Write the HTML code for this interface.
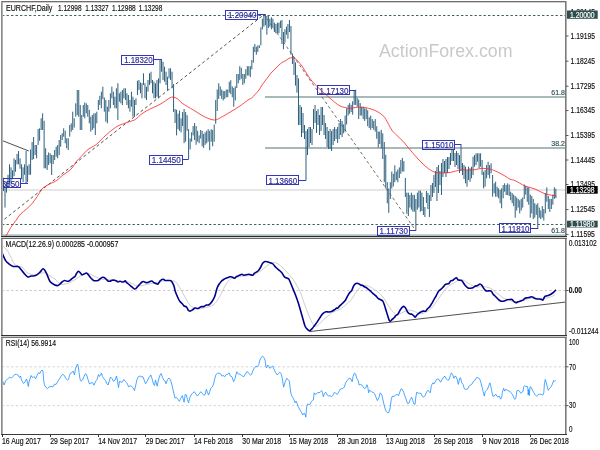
<!DOCTYPE html>
<html><head><meta charset="utf-8"><style>
html,body{margin:0;padding:0;background:#fff;}
svg{display:block;font-family:"Liberation Sans", Arial, sans-serif;}
</style></head><body>
<svg width="600" height="450" viewBox="0 0 600 450">
<rect x="0" y="0" width="600" height="450" fill="#fff"/>
<clipPath id="cm"><rect x="2" y="2" width="563" height="234"/></clipPath>
<clipPath id="cd"><rect x="2" y="239" width="563" height="96"/></clipPath>
<clipPath id="cr"><rect x="2" y="338" width="563" height="96"/></clipPath>
<rect x="1" y="234" width="565" height="1" fill="#c4d4d4" shape-rendering="crispEdges"/>
<rect x="1" y="235" width="565" height="1" fill="#a9c0c0" shape-rendering="crispEdges"/>
<g clip-path="url(#cm)">
<text x="379" y="57.3" font-size="18.3" fill="#c9c9c9" textLength="133.5" lengthAdjust="spacingAndGlyphs">ActionForex.com</text>
<line x1="2" y1="190" x2="566" y2="190" stroke="#cdcdcd" stroke-width="1.2"/>
<line x1="265" y1="97.1" x2="566" y2="97.1" stroke="#8aa2a2" stroke-width="1.5"/>
<line x1="265" y1="148" x2="566" y2="148" stroke="#8aa2a2" stroke-width="1.5"/>
<line x1="2" y1="15.5" x2="566" y2="15.5" stroke="#2f4f4f" stroke-width="0.9" stroke-dasharray="2.4,2.1"/>
<line x1="2" y1="224.5" x2="566" y2="224.5" stroke="#2f4f4f" stroke-width="0.9" stroke-dasharray="2.4,2.1"/>
<line x1="0" y1="222.7" x2="264" y2="14.5" stroke="#333" stroke-width="0.85" stroke-dasharray="3,2.6"/>
<line x1="264" y1="14.5" x2="415" y2="229.5" stroke="#555" stroke-width="0.85" stroke-dasharray="3,2.6"/>
<path d="M2.00,159.9V180.7 M3.50,177.7V191.1 M5.01,186.7V207.5 M6.51,182.2V192.6 M8.02,174.8V188.2 M9.52,164.3V183.7 M11.03,167.3V183.7 M12.54,170.3V179.2 M14.04,158.4V176.3 M15.54,159.9V171.8 M17.05,153.9V164.3 M18.55,151.0V164.3 M20.06,158.4V168.8 M21.56,164.3V179.2 M23.07,167.3V182.2 M24.57,164.3V174.8 M26.08,151.0V183.3 M27.58,165.8V182.2 M29.09,164.3V174.8 M30.59,149.5V174.8 M32.10,142.0V160.0 M33.60,137.0V159.0 M35.11,145.0V155.0 M36.61,145.0V158.3 M38.12,129.0V145.0 M39.62,128.3V140.8 M41.13,118.3V130.0 M42.63,113.3V130.0 M44.14,120.8V168.3 M45.64,148.3V168.3 M47.15,155.0V170.0 M48.65,152.5V165.0 M50.16,153.3V163.3 M51.66,155.0V175.0 M53.17,155.0V164.0 M54.67,150.0V160.0 M56.18,146.7V156.7 M57.68,145.0V158.3 M59.19,140.0V155.0 M60.69,135.0V146.7 M62.20,133.3V140.0 M63.70,128.3V136.7 M65.21,130.8V143.3 M66.71,138.3V148.3 M68.22,138.3V150.0 M69.72,125.0V136.7 M71.23,123.3V131.7 M72.73,111.7V130.0 M74.24,118.3V127.5 M75.74,103.3V116.7 M77.25,90.0V115.0 M78.75,90.0V116.7 M80.26,105.0V130.0 M81.77,115.0V130.0 M83.27,105.0V116.7 M84.77,102.5V118.3 M86.28,103.3V113.3 M87.78,105.0V116.7 M89.29,110.0V123.3 M90.79,116.7V131.7 M92.30,115.0V130.0 M93.80,113.3V128.3 M95.31,113.3V135.0 M96.81,111.7V123.3 M98.32,100.0V110.0 M99.82,95.8V105.0 M101.33,91.7V108.3 M102.83,86.7V99.2 M104.34,97.5V111.7 M105.84,100.0V121.7 M107.35,106.7V123.3 M108.85,100.0V111.7 M110.36,93.3V108.3 M111.86,86.7V98.3 M113.37,91.7V105.0 M114.87,96.7V108.3 M116.38,88.3V108.3 M117.88,83.3V120.0 M119.39,93.3V101.7 M120.89,91.7V103.3 M122.40,90.0V105.0 M123.90,88.3V98.3 M125.41,88.3V100.0 M126.91,93.3V105.0 M128.42,95.0V108.3 M129.93,100.0V111.7 M131.43,91.7V106.7 M132.94,96.7V116.7 M134.44,100.0V116.7 M135.94,98.3V105.0 M137.45,80.8V95.0 M138.95,80.0V90.0 M140.46,82.5V93.3 M141.97,83.3V98.3 M143.47,73.3V85.0 M144.97,83.3V98.3 M146.48,86.7V100.0 M147.98,80.0V91.7 M149.49,73.3V85.0 M150.99,71.7V83.3 M152.50,80.0V93.3 M154.00,81.7V98.3 M155.51,83.3V98.3 M157.01,80.0V96.7 M158.52,78.3V98.3 M160.02,60.0V83.3 M161.53,59.0V71.7 M163.03,61.7V80.0 M164.54,66.7V81.7 M166.04,71.7V85.0 M167.55,76.7V90.0 M169.05,68.3V78.3 M170.56,68.3V80.0 M172.06,71.7V88.3 M173.57,84.0V112.0 M175.07,109.0V123.0 M176.58,109.8V135.4 M178.08,113.7V129.2 M179.59,110.6V130.8 M181.09,118.3V132.3 M182.60,112.1V126.1 M184.10,109.0V143.2 M185.61,112.1V141.7 M187.11,115.2V130.8 M188.62,129.2V159.0 M190.12,138.5V149.4 M191.63,132.3V141.7 M193.13,126.1V135.4 M194.64,123.0V140.1 M196.14,126.1V144.8 M197.65,130.8V141.7 M199.15,135.4V143.2 M200.66,130.0V138.5 M202.16,130.8V146.3 M203.67,133.9V147.9 M205.17,132.3V144.8 M206.68,130.8V143.3 M208.18,129.2V141.7 M209.69,130.8V150.2 M211.19,129.2V141.7 M212.70,130.0V146.3 M214.20,124.5V141.7 M215.71,100.0V123.8 M217.21,89.5V111.0 M218.72,83.3V98.9 M220.22,86.4V95.8 M221.73,89.5V98.9 M223.23,91.0V100.4 M224.74,91.0V98.9 M226.24,89.5V97.3 M227.75,89.5V97.3 M229.25,81.8V92.7 M230.76,80.2V94.2 M232.26,86.4V97.3 M233.77,88.0V106.7 M235.27,86.4V100.4 M236.78,74.0V88.0 M238.28,74.0V83.3 M239.79,66.2V80.2 M241.29,67.8V78.7 M242.80,74.0V84.9 M244.30,74.0V83.3 M245.81,69.3V78.7 M247.31,66.2V75.6 M248.82,66.2V75.6 M250.32,66.2V77.1 M251.83,60.0V69.3 M253.33,46.7V62.7 M254.84,44.0V52.0 M256.34,46.7V54.7 M257.85,45.3V52.0 M259.35,45.3V48.0 M260.86,27.3V45.3 M262.37,18.7V29.3 M263.87,14.7V26.7 M265.38,14.0V25.3 M266.88,16.0V34.7 M268.38,16.0V28.0 M269.89,18.7V26.7 M271.39,17.3V29.3 M272.90,18.7V28.0 M274.40,22.7V32.0 M275.91,24.0V33.3 M277.41,22.7V33.3 M278.92,22.7V33.3 M280.42,20.7V28.0 M281.93,20.0V44.0 M283.44,32.0V49.3 M284.94,29.3V42.7 M286.44,26.7V34.7 M287.95,24.0V38.7 M289.45,20.0V32.0 M290.96,26.0V54.7 M292.46,53.6V64.0 M293.97,57.0V75.0 M295.47,62.4V85.6 M296.98,75.0V92.7 M298.48,78.4V125.0 M299.99,105.0V125.0 M301.50,107.0V137.0 M303.00,113.0V133.0 M304.50,125.0V139.0 M306.01,131.0V180.5 M307.51,129.0V155.0 M309.02,127.0V147.0 M310.52,127.0V143.0 M312.03,129.0V145.0 M313.53,109.0V129.0 M315.04,105.0V123.0 M316.54,111.0V133.0 M318.05,109.0V125.0 M319.55,115.0V135.0 M321.06,107.0V131.0 M322.56,107.0V125.0 M324.07,115.0V135.0 M325.57,123.0V139.0 M327.08,127.0V147.0 M328.58,131.0V149.0 M330.09,129.0V149.0 M331.59,131.0V151.0 M333.10,129.0V145.0 M334.60,127.0V141.0 M336.11,129.0V139.0 M337.61,127.0V143.0 M339.12,123.0V139.0 M340.62,119.0V135.0 M342.13,121.0V137.0 M343.63,124.4V133.3 M345.14,115.6V131.6 M346.64,108.4V124.4 M348.15,104.9V115.6 M349.65,103.1V113.8 M351.16,104.9V112.0 M352.66,101.3V114.7 M354.17,90.7V104.9 M355.67,89.8V104.9 M357.18,97.8V106.7 M358.69,99.6V119.1 M360.19,103.1V115.6 M361.69,106.7V115.6 M363.20,106.7V119.1 M364.70,108.4V120.9 M366.21,108.4V119.1 M367.71,110.2V126.2 M369.22,117.3V128.0 M370.72,115.6V129.8 M372.23,119.1V128.0 M373.73,120.9V129.8 M375.24,119.1V131.6 M376.74,126.2V138.7 M378.25,131.6V147.6 M379.75,131.6V144.0 M381.26,129.8V148.4 M382.76,133.3V159.0 M384.27,142.0V182.2 M385.77,154.8V188.5 M387.28,182.2V203.3 M388.78,188.5V212.8 M390.29,182.2V199.0 M391.79,171.6V188.5 M393.30,173.8V186.4 M394.80,165.3V182.2 M396.31,171.6V180.1 M397.81,169.5V182.2 M399.32,167.4V178.0 M400.82,160.0V173.8 M402.33,157.9V171.6 M403.83,161.1V171.6 M405.34,178.0V197.0 M406.84,192.7V213.8 M408.35,192.7V216.0 M409.85,194.9V207.5 M411.36,192.7V209.6 M412.86,194.9V211.7 M414.37,194.9V211.7 M415.87,199.0V230.2 M417.38,192.7V209.6 M418.88,190.6V207.5 M420.39,190.6V211.7 M421.89,192.7V211.0 M423.40,197.0V215.0 M424.90,207.0V217.0 M426.41,191.0V203.0 M427.91,193.0V209.0 M429.42,195.0V217.0 M430.92,185.0V201.0 M432.43,183.0V197.0 M433.93,175.0V193.0 M435.44,171.0V187.0 M436.94,167.0V201.0 M438.45,165.0V193.0 M439.95,171.0V185.0 M441.46,163.0V195.0 M442.96,159.0V177.0 M444.47,161.0V173.0 M445.97,159.0V177.0 M447.48,157.0V173.0 M448.98,157.0V169.0 M450.49,153.0V165.0 M451.99,149.0V161.0 M453.50,149.0V161.0 M455.00,153.0V167.0 M456.51,151.0V165.0 M458.01,153.0V169.0 M459.52,155.0V173.0 M461.02,145.0V171.0 M462.53,163.0V175.0 M464.03,165.0V179.0 M465.54,166.7V183.3 M467.04,170.0V186.7 M468.55,166.7V180.0 M470.05,168.3V181.7 M471.56,166.7V178.3 M473.06,156.7V175.0 M474.57,155.0V166.7 M476.07,153.3V165.0 M477.58,153.3V161.7 M479.08,153.3V168.3 M480.59,153.3V166.7 M482.09,160.0V175.0 M483.60,171.7V188.3 M485.10,170.0V186.7 M486.61,165.0V178.3 M488.11,161.7V175.0 M489.62,165.0V178.3 M491.12,163.3V173.3 M492.63,175.0V196.7 M494.13,183.3V193.3 M495.64,181.7V196.7 M497.14,186.7V196.7 M498.65,188.3V198.3 M500.15,190.0V203.3 M501.66,188.3V208.3 M503.16,185.0V198.3 M504.67,183.3V191.7 M506.17,185.0V195.0 M507.68,183.3V195.0 M509.18,184.5V196.0 M510.69,191.7V200.3 M512.19,193.1V203.2 M513.70,194.6V206.1 M515.20,196.0V217.7 M516.71,197.5V210.5 M518.21,198.9V207.6 M519.72,200.3V213.4 M521.22,198.9V210.5 M522.73,197.5V207.6 M524.24,184.5V198.9 M525.74,185.9V194.6 M527.25,187.3V201.8 M528.75,187.3V204.7 M530.25,194.6V217.7 M531.76,196.0V213.4 M533.26,198.9V219.1 M534.77,203.2V217.7 M536.27,204.7V214.8 M537.78,203.2V228.0 M539.28,207.6V217.7 M540.79,210.5V219.1 M542.29,206.1V217.7 M543.80,209.0V220.6 M545.30,193.1V213.4 M546.81,187.3V201.8 M548.31,196.0V209.0 M549.82,198.9V211.9 M551.32,198.9V209.0 M552.83,194.6V204.7 M554.33,187.3V198.9 M555.84,188.8V198.2" stroke="#2d607e" stroke-width="1.0" fill="none"/>
<path d="M2.00,240.00 C2.70,239.27 4.75,237.67 6.20,235.60 C7.65,233.53 9.07,230.13 10.70,227.60 C12.33,225.07 14.38,222.63 16.00,220.40 C17.62,218.17 18.62,216.12 20.40,214.20 C22.18,212.28 24.77,210.67 26.70,208.90 C28.63,207.13 30.23,205.68 32.00,203.60 C33.77,201.52 35.67,198.78 37.30,196.40 C38.93,194.02 40.32,191.07 41.80,189.30 C43.28,187.53 44.57,186.83 46.20,185.80 C47.83,184.77 49.82,184.00 51.60,183.10 C53.38,182.20 55.13,181.65 56.90,180.40 C58.67,179.15 60.38,177.05 62.20,175.60 C64.02,174.15 66.13,173.00 67.80,171.70 C69.47,170.40 70.72,169.57 72.20,167.80 C73.68,166.03 75.22,162.95 76.70,161.10 C78.18,159.25 79.43,158.45 81.10,156.70 C82.77,154.95 85.03,152.12 86.70,150.60 C88.37,149.08 89.62,148.53 91.10,147.60 C92.58,146.67 94.12,146.08 95.60,145.00 C97.08,143.92 98.43,142.60 100.00,141.10 C101.57,139.60 102.67,138.10 105.00,136.00 C107.33,133.90 111.50,130.33 114.00,128.50 C116.50,126.67 117.33,126.17 120.00,125.00 C122.67,123.83 127.40,122.43 130.00,121.50 C132.60,120.57 133.75,120.58 135.60,119.40 C137.45,118.22 139.25,115.83 141.10,114.40 C142.95,112.97 144.85,111.87 146.70,110.80 C148.55,109.73 149.98,109.07 152.20,108.00 C154.42,106.93 157.70,105.65 160.00,104.40 C162.30,103.15 164.33,101.60 166.00,100.50 C167.67,99.40 168.83,98.38 170.00,97.80 C171.17,97.22 171.83,96.88 173.00,97.00 C174.17,97.12 175.83,97.83 177.00,98.50 C178.17,99.17 179.13,100.20 180.00,101.00 C180.87,101.80 179.98,101.80 182.20,103.30 C184.42,104.80 189.60,107.77 193.30,110.00 C197.00,112.23 200.88,115.03 204.40,116.70 C207.92,118.37 211.43,120.00 214.40,120.00 C217.37,120.00 219.60,118.00 222.20,116.70 C224.80,115.40 227.03,113.98 230.00,112.20 C232.97,110.42 237.00,108.03 240.00,106.00 C243.00,103.97 246.05,101.33 248.00,100.00 C249.95,98.67 250.53,98.92 251.70,98.00 C252.87,97.08 253.78,95.83 255.00,94.50 C256.22,93.17 257.83,91.58 259.00,90.00 C260.17,88.42 261.00,86.50 262.00,85.00 C263.00,83.50 264.00,82.33 265.00,81.00 C266.00,79.67 267.00,78.33 268.00,77.00 C269.00,75.67 269.83,74.33 271.00,73.00 C272.17,71.67 273.67,70.33 275.00,69.00 C276.33,67.67 277.83,66.08 279.00,65.00 C280.17,63.92 281.00,63.17 282.00,62.50 C283.00,61.83 284.00,61.58 285.00,61.00 C286.00,60.42 287.17,59.50 288.00,59.00 C288.83,58.50 289.17,58.20 290.00,58.00 C290.83,57.80 292.00,57.60 293.00,57.80 C294.00,58.00 295.17,58.62 296.00,59.20 C296.83,59.78 297.00,60.17 298.00,61.30 C299.00,62.43 300.78,64.33 302.00,66.00 C303.22,67.67 304.18,69.52 305.30,71.30 C306.42,73.08 307.47,74.92 308.70,76.70 C309.93,78.48 311.37,80.45 312.70,82.00 C314.03,83.55 315.27,84.55 316.70,86.00 C318.13,87.45 319.75,89.25 321.30,90.70 C322.85,92.15 324.33,93.27 326.00,94.70 C327.67,96.13 329.75,97.97 331.30,99.30 C332.85,100.63 333.85,101.58 335.30,102.70 C336.75,103.82 338.38,105.20 340.00,106.00 C341.62,106.80 343.33,107.10 345.00,107.50 C346.67,107.90 348.00,108.45 350.00,108.40 C352.00,108.35 354.50,107.33 357.00,107.20 C359.50,107.07 362.50,107.25 365.00,107.60 C367.50,107.95 369.83,108.57 372.00,109.30 C374.17,110.03 376.17,110.95 378.00,112.00 C379.83,113.05 381.67,114.35 383.00,115.60 C384.33,116.85 384.53,117.10 386.00,119.50 C387.47,121.90 389.97,127.33 391.80,130.00 C393.63,132.67 395.05,133.53 397.00,135.50 C398.95,137.47 401.50,139.63 403.50,141.80 C405.50,143.97 407.03,146.15 409.00,148.50 C410.97,150.85 413.30,153.65 415.30,155.90 C417.30,158.15 419.05,160.05 421.00,162.00 C422.95,163.95 424.83,165.95 427.00,167.60 C429.17,169.25 431.67,171.00 434.00,171.90 C436.33,172.80 438.23,172.92 441.00,173.00 C443.77,173.08 447.43,172.90 450.60,172.40 C453.77,171.90 456.87,170.40 460.00,170.00 C463.13,169.60 466.90,170.05 469.40,170.00 C471.90,169.95 472.90,169.98 475.00,169.70 C477.10,169.42 479.50,168.38 482.00,168.30 C484.50,168.22 487.83,168.78 490.00,169.20 C492.17,169.62 493.33,170.12 495.00,170.80 C496.67,171.48 498.33,172.43 500.00,173.30 C501.67,174.17 503.33,175.02 505.00,176.00 C506.67,176.98 508.33,178.43 510.00,179.20 C511.67,179.97 512.50,179.47 515.00,180.60 C517.50,181.73 521.67,184.60 525.00,186.00 C528.33,187.40 531.67,187.70 535.00,189.00 C538.33,190.30 541.42,192.63 545.00,193.80 C548.58,194.97 554.58,195.63 556.50,196.00" stroke="#ff2020" stroke-width="0.8" fill="none"/>
<line x1="0" y1="139.7" x2="28.8" y2="151" stroke="#222" stroke-width="0.8"/>
<rect x="225.5" y="10.5" width="32.0" height="9.0" fill="none" stroke="#3636b8" stroke-width="1"/><line x1="257.5" y1="14.5" x2="265" y2="14.5" stroke="#3636b8" stroke-width="1"/><text x="228.10000000000002" y="18.099999999999998" font-size="8.7" fill="#2a2a9a" text-anchor="start" textLength="28.4" lengthAdjust="spacingAndGlyphs" stroke="#2a2a9a" stroke-width="0.16" >1.20040</text>
<rect x="121.5" y="55.5" width="32.0" height="9.0" fill="none" stroke="#3636b8" stroke-width="1"/><line x1="153.5" y1="59.5" x2="162" y2="59.5" stroke="#3636b8" stroke-width="1"/><text x="124.2" y="62.9" font-size="8.7" fill="#2a2a9a" text-anchor="start" textLength="28.4" lengthAdjust="spacingAndGlyphs" stroke="#2a2a9a" stroke-width="0.16" >1.18320</text>
<rect x="149.5" y="155.5" width="33.0" height="9.0" fill="none" stroke="#3636b8" stroke-width="1"/><line x1="182.5" y1="159.5" x2="188.7" y2="159.5" stroke="#3636b8" stroke-width="1"/><text x="151.8" y="163.20000000000002" font-size="8.7" fill="#2a2a9a" text-anchor="start" textLength="28.9" lengthAdjust="spacingAndGlyphs" stroke="#2a2a9a" stroke-width="0.16" >1.14450</text>
<rect x="266.5" y="175.5" width="32.0" height="9.0" fill="none" stroke="#3636b8" stroke-width="1"/><line x1="298.5" y1="180.5" x2="306" y2="180.5" stroke="#3636b8" stroke-width="1"/><text x="268.5" y="183.8" font-size="8.7" fill="#2a2a9a" text-anchor="start" textLength="28.7" lengthAdjust="spacingAndGlyphs" stroke="#2a2a9a" stroke-width="0.16" >1.13660</text>
<rect x="317.5" y="85.5" width="32.0" height="9.0" fill="none" stroke="#3636b8" stroke-width="1"/><line x1="349.5" y1="90.5" x2="356" y2="90.5" stroke="#3636b8" stroke-width="1"/><text x="319.6" y="93.60000000000001" font-size="8.7" fill="#2a2a9a" text-anchor="start" textLength="28.9" lengthAdjust="spacingAndGlyphs" stroke="#2a2a9a" stroke-width="0.16" >1.17130</text>
<rect x="422.5" y="140.5" width="32.0" height="9.0" fill="none" stroke="#3636b8" stroke-width="1"/><line x1="454.5" y1="144.5" x2="461.5" y2="144.5" stroke="#3636b8" stroke-width="1"/><text x="424.6" y="148.4" font-size="8.7" fill="#2a2a9a" text-anchor="start" textLength="28.9" lengthAdjust="spacingAndGlyphs" stroke="#2a2a9a" stroke-width="0.16" >1.15010</text>
<rect x="377.5" y="226.5" width="32.0" height="9.0" fill="none" stroke="#3636b8" stroke-width="1"/><line x1="409.5" y1="230.5" x2="416.2" y2="230.5" stroke="#3636b8" stroke-width="1"/><text x="379.6" y="233.9" font-size="8.7" fill="#2a2a9a" text-anchor="start" textLength="28.4" lengthAdjust="spacingAndGlyphs" stroke="#2a2a9a" stroke-width="0.16" >1.11730</text>
<rect x="499.5" y="223.5" width="31.0" height="9.0" fill="none" stroke="#3636b8" stroke-width="1"/><line x1="530.5" y1="228.5" x2="538.3" y2="228.5" stroke="#3636b8" stroke-width="1"/><text x="501.40000000000003" y="231.6" font-size="8.7" fill="#2a2a9a" text-anchor="start" textLength="28.1" lengthAdjust="spacingAndGlyphs" stroke="#2a2a9a" stroke-width="0.16" >1.11810</text>
<rect x="-10.5" y="178.5" width="31.0" height="9.0" fill="none" stroke="#3636b8" stroke-width="1"/><line x1="20.5" y1="183.5" x2="28" y2="183.5" stroke="#3636b8" stroke-width="1"/><text x="-9.2" y="186.70000000000002" font-size="8.7" fill="#2a2a9a" text-anchor="start" textLength="28.7" lengthAdjust="spacingAndGlyphs" stroke="#2a2a9a" stroke-width="0.16" >1.13550</text>
<text x="551.3" y="95" font-size="7.6" fill="#2e4e58" text-anchor="start" textLength="13.6" lengthAdjust="spacingAndGlyphs" stroke="#2e4e58" stroke-width="0.16" >61.8</text>
<text x="551.3" y="146" font-size="7.6" fill="#2e4e58" text-anchor="start" textLength="13.6" lengthAdjust="spacingAndGlyphs" stroke="#2e4e58" stroke-width="0.16" >38.2</text>
<text x="551.3" y="232.6" font-size="7.6" fill="#2e4e58" text-anchor="start" textLength="13.6" lengthAdjust="spacingAndGlyphs" stroke="#2e4e58" stroke-width="0.16" >61.8</text>
</g>
<text x="6" y="10.7" font-size="8.2" fill="#111" text-anchor="start" textLength="46.4" lengthAdjust="spacingAndGlyphs" stroke="#111" stroke-width="0.16" >EURCHF,Daily</text>
<text x="58" y="10.7" font-size="8.2" fill="#111" text-anchor="start" textLength="23.6" lengthAdjust="spacingAndGlyphs" stroke="#111" stroke-width="0.16" >1.12998</text>
<text x="85.3" y="10.7" font-size="8.2" fill="#111" text-anchor="start" textLength="23.4" lengthAdjust="spacingAndGlyphs" stroke="#111" stroke-width="0.16" >1.13327</text>
<text x="112" y="10.7" font-size="8.2" fill="#111" text-anchor="start" textLength="23.7" lengthAdjust="spacingAndGlyphs" stroke="#111" stroke-width="0.16" >1.12988</text>
<text x="138.7" y="10.7" font-size="8.2" fill="#111" text-anchor="start" textLength="23.6" lengthAdjust="spacingAndGlyphs" stroke="#111" stroke-width="0.16" >1.13298</text>
<g clip-path="url(#cd)">
<line x1="2" y1="290.5" x2="566" y2="290.5" stroke="#bbb" stroke-width="0.8" stroke-dasharray="2.3,2.3"/>
<path d="M2.00,244.90 C3.00,246.02 5.83,248.27 8.00,251.60 C10.17,254.93 12.67,262.33 15.00,264.90 C17.33,267.47 20.00,265.70 22.00,267.00 C24.00,268.30 24.83,271.38 27.00,272.70 C29.17,274.02 32.17,274.90 35.00,274.90 C37.83,274.90 41.50,272.52 44.00,272.70 C46.50,272.88 48.17,274.95 50.00,276.00 C51.83,277.05 53.67,277.92 55.00,279.00 C56.33,280.08 57.00,281.58 58.00,282.50 C59.00,283.42 59.83,284.25 61.00,284.50 C62.17,284.75 63.67,284.25 65.00,284.00 C66.33,283.75 67.67,283.53 69.00,283.00 C70.33,282.47 71.67,281.55 73.00,280.80 C74.33,280.05 75.67,279.38 77.00,278.50 C78.33,277.62 79.67,276.25 81.00,275.50 C82.33,274.75 83.67,274.33 85.00,274.00 C86.33,273.67 87.67,273.25 89.00,273.50 C90.33,273.75 91.67,274.83 93.00,275.50 C94.33,276.17 95.67,276.92 97.00,277.50 C98.33,278.08 99.67,278.67 101.00,279.00 C102.33,279.33 103.67,279.37 105.00,279.50 C106.33,279.63 107.67,279.72 109.00,279.80 C110.33,279.88 111.17,279.80 113.00,280.00 C114.83,280.20 117.67,280.75 120.00,281.00 C122.33,281.25 125.00,281.08 127.00,281.50 C129.00,281.92 130.33,282.75 132.00,283.50 C133.67,284.25 135.33,285.67 137.00,286.00 C138.67,286.33 140.33,285.75 142.00,285.50 C143.67,285.25 145.33,284.88 147.00,284.50 C148.67,284.12 150.33,283.53 152.00,283.20 C153.67,282.87 155.33,282.78 157.00,282.50 C158.67,282.22 160.67,281.83 162.00,281.50 C163.33,281.17 163.00,280.58 165.00,280.50 C167.00,280.42 171.83,280.25 174.00,281.00 C176.17,281.75 176.83,283.50 178.00,285.00 C179.17,286.50 179.83,288.00 181.00,290.00 C182.17,292.00 183.67,294.67 185.00,297.00 C186.33,299.33 187.67,302.25 189.00,304.00 C190.33,305.75 191.50,306.67 193.00,307.50 C194.50,308.33 196.33,308.92 198.00,309.00 C199.67,309.08 201.33,308.33 203.00,308.00 C204.67,307.67 206.33,307.50 208.00,307.00 C209.67,306.50 211.50,306.00 213.00,305.00 C214.50,304.00 215.67,302.83 217.00,301.00 C218.33,299.17 219.83,296.17 221.00,294.00 C222.17,291.83 223.05,289.83 224.00,288.00 C224.95,286.17 225.82,284.33 226.70,283.00 C227.58,281.67 228.42,280.78 229.30,280.00 C230.18,279.22 230.88,278.75 232.00,278.30 C233.12,277.85 234.67,277.60 236.00,277.30 C237.33,277.00 238.67,276.72 240.00,276.50 C241.33,276.28 242.33,276.17 244.00,276.00 C245.67,275.83 248.17,275.75 250.00,275.50 C251.83,275.25 253.00,275.42 255.00,274.50 C257.00,273.58 259.83,271.58 262.00,270.00 C264.17,268.42 266.17,266.25 268.00,265.00 C269.83,263.75 271.33,262.67 273.00,262.50 C274.67,262.33 276.33,263.08 278.00,264.00 C279.67,264.92 281.17,266.25 283.00,268.00 C284.83,269.75 287.23,272.50 289.00,274.50 C290.77,276.50 292.23,278.07 293.60,280.00 C294.97,281.93 296.08,284.07 297.20,286.10 C298.32,288.13 299.28,289.75 300.30,292.20 C301.32,294.65 302.28,297.95 303.30,300.80 C304.32,303.65 305.38,306.65 306.40,309.30 C307.42,311.95 308.38,314.35 309.40,316.70 C310.42,319.05 311.57,321.77 312.50,323.40 C313.43,325.03 314.18,326.10 315.00,326.50 C315.82,326.90 316.48,326.42 317.40,325.80 C318.32,325.18 319.38,323.92 320.50,322.80 C321.62,321.68 322.88,320.22 324.10,319.10 C325.32,317.98 326.57,317.12 327.80,316.10 C329.03,315.08 330.30,313.82 331.50,313.00 C332.70,312.18 333.48,311.88 335.00,311.20 C336.52,310.52 338.75,310.03 340.60,308.90 C342.45,307.77 344.25,306.07 346.10,304.40 C347.95,302.73 349.85,301.20 351.70,298.90 C353.55,296.60 355.53,292.73 357.20,290.60 C358.87,288.47 360.22,286.93 361.70,286.10 C363.18,285.27 364.62,285.42 366.10,285.60 C367.58,285.78 369.12,286.47 370.60,287.20 C372.08,287.93 373.53,288.98 375.00,290.00 C376.47,291.02 377.92,291.92 379.40,293.30 C380.88,294.68 382.42,296.25 383.90,298.30 C385.38,300.35 386.82,303.37 388.30,305.60 C389.78,307.83 391.68,310.42 392.80,311.70 C393.92,312.98 394.23,312.75 395.00,313.30 C395.77,313.85 396.07,315.18 397.40,315.00 C398.73,314.82 401.13,313.00 403.00,312.20 C404.87,311.40 406.93,310.42 408.60,310.20 C410.27,309.98 411.53,310.47 413.00,310.90 C414.47,311.33 415.92,312.35 417.40,312.80 C418.88,313.25 420.42,313.73 421.90,313.60 C423.38,313.47 424.82,312.78 426.30,312.00 C427.78,311.22 429.32,310.35 430.80,308.90 C432.28,307.45 433.72,305.25 435.20,303.30 C436.68,301.35 438.22,299.32 439.70,297.20 C441.18,295.08 442.62,292.45 444.10,290.60 C445.58,288.75 447.12,287.32 448.60,286.10 C450.08,284.88 452.10,283.82 453.00,283.30 C453.90,282.78 453.17,283.47 454.00,283.00 C454.83,282.53 456.50,281.00 458.00,280.50 C459.50,280.00 461.33,279.58 463.00,280.00 C464.67,280.42 466.33,282.00 468.00,283.00 C469.67,284.00 471.33,285.33 473.00,286.00 C474.67,286.67 476.33,286.92 478.00,287.00 C479.67,287.08 481.33,286.42 483.00,286.50 C484.67,286.58 486.50,287.08 488.00,287.50 C489.50,287.92 490.67,288.17 492.00,289.00 C493.33,289.83 494.67,291.42 496.00,292.50 C497.33,293.58 498.67,294.50 500.00,295.50 C501.33,296.50 502.67,297.83 504.00,298.50 C505.33,299.17 507.00,299.17 508.00,299.50 C509.00,299.83 508.83,300.12 510.00,300.50 C511.17,300.88 513.33,301.68 515.00,301.80 C516.67,301.92 518.33,301.53 520.00,301.20 C521.67,300.87 523.33,300.25 525.00,299.80 C526.67,299.35 528.33,298.77 530.00,298.50 C531.67,298.23 533.33,298.20 535.00,298.20 C536.67,298.20 538.33,298.50 540.00,298.50 C541.67,298.50 543.33,298.42 545.00,298.20 C546.67,297.98 548.33,297.73 550.00,297.20 C551.67,296.67 554.17,295.37 555.00,295.00" stroke="#c0c0c0" stroke-width="0.8" fill="none"/>
<path d="M2.00,252.70 C2.58,253.98 4.35,258.55 5.50,260.40 C6.65,262.25 7.60,262.80 8.90,263.80 C10.20,264.80 11.82,265.97 13.30,266.40 C14.78,266.83 16.68,266.10 17.80,266.40 C18.92,266.70 18.90,266.97 20.00,268.20 C21.10,269.43 23.10,272.33 24.40,273.80 C25.70,275.27 26.70,276.63 27.80,277.00 C28.90,277.37 29.70,276.23 31.00,276.00 C32.30,275.77 34.10,276.23 35.60,275.60 C37.10,274.97 38.72,273.35 40.00,272.20 C41.28,271.05 42.18,268.43 43.30,268.70 C44.42,268.97 45.58,271.65 46.70,273.80 C47.82,275.95 48.62,279.73 50.00,281.60 C51.38,283.47 53.67,284.35 55.00,285.00 C56.33,285.65 57.17,285.67 58.00,285.50 C58.83,285.33 59.33,284.58 60.00,284.00 C60.67,283.42 61.25,282.58 62.00,282.00 C62.75,281.42 63.67,280.63 64.50,280.50 C65.33,280.37 66.25,281.12 67.00,281.20 C67.75,281.28 68.33,281.28 69.00,281.00 C69.67,280.72 70.33,280.03 71.00,279.50 C71.67,278.97 72.33,278.30 73.00,277.80 C73.67,277.30 74.42,277.22 75.00,276.50 C75.58,275.78 75.92,274.38 76.50,273.50 C77.08,272.62 77.83,271.28 78.50,271.20 C79.17,271.12 79.92,272.40 80.50,273.00 C81.08,273.60 81.42,274.63 82.00,274.80 C82.58,274.97 83.25,274.30 84.00,274.00 C84.75,273.70 85.75,272.83 86.50,273.00 C87.25,273.17 87.75,274.13 88.50,275.00 C89.25,275.87 90.17,277.28 91.00,278.20 C91.83,279.12 92.67,280.07 93.50,280.50 C94.33,280.93 95.25,280.80 96.00,280.80 C96.75,280.80 97.33,280.80 98.00,280.50 C98.67,280.20 99.33,279.50 100.00,279.00 C100.67,278.50 101.33,277.75 102.00,277.50 C102.67,277.25 103.33,277.25 104.00,277.50 C104.67,277.75 105.33,278.42 106.00,279.00 C106.67,279.58 107.33,280.63 108.00,281.00 C108.67,281.37 109.33,281.33 110.00,281.20 C110.67,281.07 111.25,280.37 112.00,280.20 C112.75,280.03 113.75,280.07 114.50,280.20 C115.25,280.33 115.92,280.70 116.50,281.00 C117.08,281.30 117.42,281.97 118.00,282.00 C118.58,282.03 119.33,281.20 120.00,281.20 C120.67,281.20 121.33,281.90 122.00,282.00 C122.67,282.10 123.47,282.00 124.00,281.80 C124.53,281.60 124.78,280.68 125.20,280.80 C125.62,280.92 125.95,281.97 126.50,282.50 C127.05,283.03 127.83,283.45 128.50,284.00 C129.17,284.55 129.83,285.22 130.50,285.80 C131.17,286.38 131.83,286.97 132.50,287.50 C133.17,288.03 133.92,288.83 134.50,289.00 C135.08,289.17 135.42,288.97 136.00,288.50 C136.58,288.03 137.33,286.95 138.00,286.20 C138.67,285.45 139.33,284.70 140.00,284.00 C140.67,283.30 141.42,282.42 142.00,282.00 C142.58,281.58 142.92,281.42 143.50,281.50 C144.08,281.58 144.75,282.33 145.50,282.50 C146.25,282.67 147.25,282.67 148.00,282.50 C148.75,282.33 149.33,281.75 150.00,281.50 C150.67,281.25 151.33,280.78 152.00,281.00 C152.67,281.22 153.33,282.38 154.00,282.80 C154.67,283.22 155.33,283.30 156.00,283.50 C156.67,283.70 157.33,284.42 158.00,284.00 C158.67,283.58 159.33,281.75 160.00,281.00 C160.67,280.25 161.33,279.75 162.00,279.50 C162.67,279.25 163.50,279.33 164.00,279.50 C164.50,279.67 164.00,280.33 165.00,280.50 C166.00,280.67 168.83,280.25 170.00,280.50 C171.17,280.75 171.33,281.08 172.00,282.00 C172.67,282.92 173.50,284.58 174.00,286.00 C174.50,287.42 174.58,289.08 175.00,290.50 C175.42,291.92 175.92,293.08 176.50,294.50 C177.08,295.92 177.92,297.83 178.50,299.00 C179.08,300.17 179.33,300.67 180.00,301.50 C180.67,302.33 181.83,303.25 182.50,304.00 C183.17,304.75 183.33,305.50 184.00,306.00 C184.67,306.50 185.75,306.25 186.50,307.00 C187.25,307.75 187.83,309.83 188.50,310.50 C189.17,311.17 189.75,311.17 190.50,311.00 C191.25,310.83 192.25,310.00 193.00,309.50 C193.75,309.00 194.17,308.17 195.00,308.00 C195.83,307.83 197.00,308.70 198.00,308.50 C199.00,308.30 200.00,307.13 201.00,306.80 C202.00,306.47 203.08,306.80 204.00,306.50 C204.92,306.20 205.67,305.28 206.50,305.00 C207.33,304.72 208.08,305.38 209.00,304.80 C209.92,304.22 211.08,302.80 212.00,301.50 C212.92,300.20 213.83,298.58 214.50,297.00 C215.17,295.42 215.50,293.67 216.00,292.00 C216.50,290.33 216.92,288.42 217.50,287.00 C218.08,285.58 219.08,284.17 219.50,283.50 C219.92,282.83 219.58,283.47 220.00,283.00 C220.42,282.53 221.33,281.33 222.00,280.70 C222.67,280.07 223.33,279.60 224.00,279.20 C224.67,278.80 225.33,278.58 226.00,278.30 C226.67,278.02 227.33,277.77 228.00,277.50 C228.67,277.23 229.33,276.78 230.00,276.70 C230.67,276.62 231.38,276.80 232.00,277.00 C232.62,277.20 233.20,277.72 233.70,277.90 C234.20,278.08 234.57,278.30 235.00,278.10 C235.43,277.90 235.80,277.07 236.30,276.70 C236.80,276.33 237.38,276.18 238.00,275.90 C238.62,275.62 239.33,275.27 240.00,275.00 C240.67,274.73 241.38,274.27 242.00,274.30 C242.62,274.33 243.20,275.08 243.70,275.20 C244.20,275.32 244.12,275.17 245.00,275.00 C245.88,274.83 247.75,274.17 249.00,274.20 C250.25,274.23 251.58,275.37 252.50,275.20 C253.42,275.03 253.58,273.90 254.50,273.20 C255.42,272.50 257.00,271.95 258.00,271.00 C259.00,270.05 259.75,268.75 260.50,267.50 C261.25,266.25 261.75,264.50 262.50,263.50 C263.25,262.50 264.08,261.75 265.00,261.50 C265.92,261.25 267.00,261.75 268.00,262.00 C269.00,262.25 270.17,262.67 271.00,263.00 C271.83,263.33 272.17,263.25 273.00,264.00 C273.83,264.75 274.92,266.42 276.00,267.50 C277.08,268.58 278.50,269.58 279.50,270.50 C280.50,271.42 281.17,271.95 282.00,273.00 C282.83,274.05 283.50,275.88 284.50,276.80 C285.50,277.72 287.20,277.97 288.00,278.50 C288.80,279.03 288.58,278.53 289.30,280.00 C290.02,281.47 291.28,284.85 292.30,287.30 C293.32,289.75 294.38,292.05 295.40,294.70 C296.42,297.35 297.48,300.35 298.40,303.20 C299.32,306.05 300.08,308.95 300.90,311.80 C301.72,314.65 302.58,317.85 303.30,320.30 C304.02,322.75 304.48,324.97 305.20,326.50 C305.92,328.03 306.90,328.80 307.60,329.50 C308.30,330.20 308.68,330.80 309.40,330.70 C310.12,330.60 311.08,329.72 311.90,328.90 C312.72,328.08 313.38,327.02 314.30,325.80 C315.22,324.58 316.37,323.12 317.40,321.60 C318.43,320.08 319.58,318.03 320.50,316.70 C321.42,315.37 321.98,314.42 322.90,313.60 C323.82,312.78 324.98,312.07 326.00,311.80 C327.02,311.53 327.98,312.10 329.00,312.00 C330.02,311.90 331.10,311.65 332.10,311.20 C333.10,310.75 334.23,309.83 335.00,309.30 C335.77,308.77 336.23,308.20 336.70,308.00 C337.17,307.80 337.25,308.50 337.80,308.10 C338.35,307.70 339.17,306.45 340.00,305.60 C340.83,304.75 341.87,303.93 342.80,303.00 C343.73,302.07 344.77,301.23 345.60,300.00 C346.43,298.77 347.07,296.90 347.80,295.60 C348.53,294.30 349.35,293.03 350.00,292.20 C350.65,291.37 351.15,291.52 351.70,290.60 C352.25,289.68 352.75,287.78 353.30,286.70 C353.85,285.62 354.35,284.67 355.00,284.10 C355.65,283.53 356.55,283.33 357.20,283.30 C357.85,283.27 358.33,283.62 358.90,283.90 C359.47,284.18 360.05,284.78 360.60,285.00 C361.15,285.22 361.57,284.92 362.20,285.20 C362.83,285.48 363.57,286.18 364.40,286.70 C365.23,287.22 366.27,287.65 367.20,288.30 C368.13,288.95 369.07,289.77 370.00,290.60 C370.93,291.43 371.87,292.47 372.80,293.30 C373.73,294.13 374.68,294.72 375.60,295.60 C376.52,296.48 377.47,297.92 378.30,298.60 C379.13,299.28 379.85,299.28 380.60,299.70 C381.35,300.12 382.17,300.22 382.80,301.10 C383.43,301.98 383.85,303.42 384.40,305.00 C384.95,306.58 385.53,308.75 386.10,310.60 C386.67,312.45 387.25,314.43 387.80,316.10 C388.35,317.77 388.93,319.77 389.40,320.60 C389.87,321.43 390.13,321.30 390.60,321.10 C391.07,320.90 391.65,319.95 392.20,319.40 C392.75,318.85 393.43,318.20 393.90,317.80 C394.37,317.40 394.78,317.28 395.00,317.00 C395.22,316.72 394.70,316.62 395.20,316.10 C395.70,315.58 397.17,314.92 398.00,313.90 C398.83,312.88 399.47,311.12 400.20,310.00 C400.93,308.88 401.75,307.80 402.40,307.20 C403.05,306.60 403.53,306.22 404.10,306.40 C404.67,306.58 405.25,307.42 405.80,308.30 C406.35,309.18 406.75,310.77 407.40,311.70 C408.05,312.63 408.95,313.48 409.70,313.90 C410.45,314.32 411.25,313.92 411.90,314.20 C412.55,314.48 413.05,315.10 413.60,315.60 C414.15,316.10 414.65,317.30 415.20,317.20 C415.75,317.10 416.25,315.68 416.90,315.00 C417.55,314.32 418.37,313.65 419.10,313.10 C419.83,312.55 420.55,312.03 421.30,311.70 C422.05,311.37 422.85,311.20 423.60,311.10 C424.35,311.00 425.17,311.47 425.80,311.10 C426.43,310.73 426.75,309.63 427.40,308.90 C428.05,308.17 428.95,307.63 429.70,306.70 C430.45,305.77 431.17,304.52 431.90,303.30 C432.63,302.08 433.37,300.68 434.10,299.40 C434.83,298.12 435.55,296.98 436.30,295.60 C437.05,294.22 437.85,292.13 438.60,291.10 C439.35,290.07 440.07,290.05 440.80,289.40 C441.53,288.75 442.27,287.98 443.00,287.20 C443.73,286.42 444.47,285.25 445.20,284.70 C445.93,284.15 446.75,284.13 447.40,283.90 C448.05,283.67 448.53,283.80 449.10,283.30 C449.67,282.80 450.15,281.42 450.80,280.90 C451.45,280.38 452.38,280.55 453.00,280.20 C453.62,279.85 453.92,279.20 454.50,278.80 C455.08,278.40 455.92,277.63 456.50,277.80 C457.08,277.97 457.42,279.40 458.00,279.80 C458.58,280.20 459.33,280.03 460.00,280.20 C460.67,280.37 461.42,280.33 462.00,280.80 C462.58,281.27 462.92,282.17 463.50,283.00 C464.08,283.83 464.75,284.97 465.50,285.80 C466.25,286.63 467.17,287.60 468.00,288.00 C468.83,288.40 469.67,288.23 470.50,288.20 C471.33,288.17 472.25,288.13 473.00,287.80 C473.75,287.47 474.25,286.58 475.00,286.20 C475.75,285.82 476.67,285.87 477.50,285.50 C478.33,285.13 479.25,284.00 480.00,284.00 C480.75,284.00 481.42,284.83 482.00,285.50 C482.58,286.17 482.92,287.17 483.50,288.00 C484.08,288.83 484.83,290.00 485.50,290.50 C486.17,291.00 486.83,290.95 487.50,291.00 C488.17,291.05 488.83,290.72 489.50,290.80 C490.17,290.88 490.92,290.97 491.50,291.50 C492.08,292.03 492.42,293.25 493.00,294.00 C493.58,294.75 494.33,295.33 495.00,296.00 C495.67,296.67 496.33,297.33 497.00,298.00 C497.67,298.67 498.33,299.47 499.00,300.00 C499.67,300.53 500.33,301.00 501.00,301.20 C501.67,301.40 502.33,301.27 503.00,301.20 C503.67,301.13 504.33,301.03 505.00,300.80 C505.67,300.57 506.25,300.02 507.00,299.80 C507.75,299.58 508.67,299.55 509.50,299.50 C510.33,299.45 511.25,299.17 512.00,299.50 C512.75,299.83 513.33,300.95 514.00,301.50 C514.67,302.05 515.33,302.75 516.00,302.80 C516.67,302.85 517.33,302.07 518.00,301.80 C518.67,301.53 519.33,301.42 520.00,301.20 C520.67,300.98 521.42,300.73 522.00,300.50 C522.58,300.27 523.00,300.18 523.50,299.80 C524.00,299.42 524.42,298.53 525.00,298.20 C525.58,297.87 526.33,297.92 527.00,297.80 C527.67,297.68 528.33,297.67 529.00,297.50 C529.67,297.33 530.33,296.85 531.00,296.80 C531.67,296.75 532.33,296.92 533.00,297.20 C533.67,297.48 534.33,298.20 535.00,298.50 C535.67,298.80 536.25,298.92 537.00,299.00 C537.75,299.08 538.75,298.92 539.50,299.00 C540.25,299.08 540.92,299.33 541.50,299.50 C542.08,299.67 542.50,300.42 543.00,300.00 C543.50,299.58 544.00,297.67 544.50,297.00 C545.00,296.33 545.42,296.25 546.00,296.00 C546.58,295.75 547.33,295.70 548.00,295.50 C548.67,295.30 549.33,295.13 550.00,294.80 C550.67,294.47 551.33,294.00 552.00,293.50 C552.67,293.00 553.33,292.42 554.00,291.80 C554.67,291.18 555.67,290.13 556.00,289.80" stroke="#00008c" stroke-width="1.6" fill="none" stroke-linejoin="round"/>
<line x1="309.4" y1="331.6" x2="566" y2="302" stroke="#222" stroke-width="0.8"/>
</g>
<text x="5.6" y="247.3" font-size="8.2" fill="#111" text-anchor="start" textLength="112.7" lengthAdjust="spacingAndGlyphs" stroke="#111" stroke-width="0.16" >MACD(12.26.9) 0.000285 -0.000957</text>
<g clip-path="url(#cr)">
<line x1="2" y1="366.8" x2="566" y2="366.8" stroke="#c8c8c8" stroke-width="0.8" stroke-dasharray="2.3,2.3"/>
<line x1="2" y1="405.6" x2="566" y2="405.6" stroke="#c8c8c8" stroke-width="0.8" stroke-dasharray="2.3,2.3"/>
<path d="M2.0,379.0 L3.0,382.0 L4.2,385.0 L5.5,381.0 L7.5,379.0 L9.5,377.2 L11.5,378.0 L13.0,376.5 L14.5,374.5 L16.5,374.3 L18.0,375.0 L19.5,377.5 L20.5,376.0 L21.5,380.0 L23.5,383.5 L25.0,382.0 L26.5,379.0 L27.5,382.0 L28.3,386.5 L29.0,382.0 L30.0,379.0 L31.0,375.5 L32.0,377.0 L33.0,377.5 L34.0,376.5 L35.5,378.8 L37.0,375.5 L38.5,372.8 L40.0,373.5 L41.0,371.0 L42.0,370.0 L43.0,371.0 L43.7,380.5 L44.5,385.0 L46.0,387.5 L47.5,388.5 L49.0,387.0 L51.0,386.5 L53.0,386.8 L54.5,384.0 L56.0,384.5 L57.5,382.0 L59.0,379.5 L60.0,378.0 L61.5,375.5 L63.0,374.2 L64.5,376.0 L66.0,378.5 L67.5,380.2 L68.5,379.5 L69.5,375.5 L70.5,373.2 L72.0,372.5 L73.0,371.0 L74.0,373.5 L74.5,375.0 L75.5,368.5 L76.5,366.0 L77.5,364.0 L78.3,366.5 L79.0,372.5 L80.0,379.0 L81.0,381.2 L82.5,380.0 L84.0,376.5 L85.5,373.5 L86.5,374.5 L88.0,379.5 L89.5,384.0 L91.0,383.0 L92.5,382.5 L94.0,385.2 L95.5,381.5 L97.0,379.5 L98.5,374.5 L99.5,376.5 L100.5,375.0 L101.5,373.0 L102.5,376.5 L104.0,378.8 L105.5,380.5 L107.0,384.0 L108.0,385.0 L109.0,382.0 L110.5,377.0 L112.0,378.5 L113.5,381.5 L115.0,380.0 L116.5,376.0 L117.5,381.0 L118.5,387.5 L119.5,381.0 L120.0,381.5 L121.0,382.0 L122.2,382.2 L123.8,379.5 L125.0,381.0 L126.5,382.5 L127.5,384.0 L128.5,386.8 L130.0,385.8 L131.5,386.2 L132.8,387.5 L134.5,390.5 L136.0,384.0 L137.0,379.5 L138.5,376.5 L140.0,376.0 L141.5,376.8 L143.0,376.8 L144.5,381.0 L145.5,383.8 L147.0,381.5 L149.0,377.5 L150.8,375.0 L152.0,378.5 L153.5,384.0 L154.5,385.5 L155.5,380.0 L156.5,384.0 L157.2,386.2 L158.5,380.0 L160.0,375.0 L161.2,373.5 L162.5,377.5 L164.0,380.5 L165.0,381.0 L166.0,383.8 L167.5,379.5 L169.0,378.0 L170.5,380.0 L172.0,385.0 L173.5,392.0 L175.0,398.0 L176.5,397.5 L178.0,399.4 L179.3,401.3 L180.8,398.3 L182.4,395.6 L183.6,400.6 L184.1,402.2 L185.2,394.4 L186.3,395.0 L187.4,399.4 L188.6,402.8 L189.7,397.8 L191.1,395.0 L192.4,393.3 L194.4,391.7 L195.8,393.9 L197.4,396.1 L199.1,393.9 L200.8,391.7 L202.4,393.3 L203.8,395.3 L205.2,394.4 L206.3,389.4 L207.4,392.2 L208.6,395.0 L209.7,391.7 L210.8,388.3 L212.4,386.7 L213.6,383.9 L214.7,378.9 L215.8,375.0 L217.4,373.3 L219.1,373.1 L220.8,373.9 L221.9,376.1 L223.6,375.6 L224.7,376.7 L226.3,374.4 L227.8,374.4 L229.1,372.8 L230.4,376.1 L231.9,376.7 L233.6,381.7 L234.9,378.9 L236.7,371.7 L238.0,373.9 L239.9,374.1 L241.6,375.6 L243.8,376.7 L245.4,374.1 L247.1,371.4 L248.8,373.3 L250.4,375.2 L251.6,374.4 L252.7,371.1 L254.3,367.8 L256.0,366.3 L257.7,366.7 L258.8,364.4 L259.9,360.0 L261.3,357.2 L262.7,356.1 L264.0,357.8 L265.1,360.0 L265.8,366.1 L266.6,367.8 L267.7,365.0 L268.8,366.7 L269.9,368.3 L271.3,367.2 L272.7,366.1 L273.8,368.9 L275.4,372.2 L277.1,375.0 L278.4,373.7 L279.9,372.2 L281.3,374.1 L282.4,378.9 L283.6,387.2 L284.9,382.8 L286.6,378.3 L288.0,379.4 L289.3,381.1 L290.2,388.3 L291.0,393.9 L292.2,396.7 L293.9,399.4 L295.0,402.8 L296.1,401.1 L297.2,403.9 L298.3,406.7 L300.0,410.0 L301.7,412.8 L302.8,415.0 L303.9,413.3 L305.0,413.9 L305.8,417.2 L306.7,406.7 L307.6,403.9 L308.7,404.4 L310.0,404.4 L311.3,401.7 L312.2,400.6 L313.3,400.0 L314.2,392.8 L315.3,394.4 L316.7,393.9 L318.0,392.2 L319.1,392.8 L320.2,392.0 L321.7,390.6 L322.4,392.2 L323.3,396.7 L324.4,393.9 L325.6,392.2 L326.7,393.9 L328.3,396.1 L330.0,395.6 L331.3,396.7 L332.8,395.6 L334.4,392.2 L335.8,393.3 L337.2,394.4 L338.9,391.7 L340.6,388.9 L342.2,388.7 L344.4,387.2 L345.6,382.8 L347.2,380.6 L348.9,378.3 L350.0,378.3 L350.8,378.9 L352.2,381.7 L353.0,376.7 L354.4,373.1 L355.6,373.9 L356.7,378.3 L358.0,380.0 L359.1,385.0 L360.4,384.4 L361.9,385.0 L363.0,386.7 L364.4,388.7 L365.8,387.8 L366.9,384.7 L367.8,387.2 L368.6,392.8 L369.7,390.0 L370.8,391.1 L371.9,392.2 L373.3,392.2 L374.7,393.9 L376.0,397.2 L377.4,400.6 L378.9,397.8 L380.2,392.8 L381.9,395.0 L383.0,400.0 L384.1,405.0 L385.2,408.9 L386.3,411.5 L387.6,412.8 L388.8,412.5 L390.2,407.8 L391.3,398.9 L392.4,396.1 L394.1,396.4 L395.8,395.0 L397.1,394.4 L398.6,395.6 L399.7,392.2 L401.1,388.9 L402.4,389.4 L403.6,392.2 L404.7,395.6 L406.0,398.9 L407.4,403.3 L408.9,403.3 L410.3,399.4 L411.7,397.2 L412.8,400.6 L413.9,403.9 L415.0,404.4 L415.9,396.7 L416.7,392.2 L418.1,393.1 L419.4,393.3 L420.9,393.3 L422.2,396.1 L423.7,397.2 L425.0,395.6 L426.7,391.7 L428.1,390.2 L429.4,392.2 L430.3,392.8 L431.4,385.6 L432.8,382.8 L434.1,383.9 L435.6,381.1 L437.2,378.9 L438.9,379.4 L440.6,382.2 L442.2,379.4 L443.9,376.7 L445.0,376.4 L446.3,378.9 L447.8,380.2 L448.9,380.0 L450.3,375.6 L451.4,372.8 L452.6,374.4 L453.9,378.3 L455.0,376.1 L456.1,376.7 L457.2,379.4 L458.3,384.4 L459.7,378.3 L460.6,377.8 L461.7,382.8 L463.0,384.4 L464.4,388.9 L465.8,389.4 L467.4,389.2 L469.1,386.1 L470.8,384.8 L472.1,383.9 L473.6,381.1 L475.0,380.0 L476.6,377.4 L478.0,377.8 L479.7,378.9 L481.0,382.8 L482.1,387.2 L483.2,391.7 L484.3,396.1 L485.2,391.7 L486.3,390.6 L487.4,389.4 L488.8,385.6 L489.9,382.8 L490.8,386.1 L491.7,390.6 L492.8,396.1 L494.1,396.1 L495.8,394.1 L496.9,396.1 L498.0,397.2 L499.1,395.9 L500.6,399.2 L501.7,396.7 L502.4,392.2 L503.6,388.3 L504.7,391.1 L505.8,389.2 L506.9,390.0 L508.3,390.8 L509.7,391.1 L511.0,392.8 L512.4,394.4 L513.6,397.2 L514.7,399.4 L515.8,398.3 L516.9,390.6 L518.0,390.3 L519.4,391.1 L520.8,393.3 L521.9,392.2 L523.0,391.4 L523.8,386.7 L524.7,385.6 L525.8,386.7 L527.1,386.1 L527.8,388.3 L528.2,395.0 L528.8,389.4 L529.3,395.6 L530.0,386.7 L531.1,387.2 L532.4,390.0 L533.8,392.6 L535.2,394.8 L536.7,396.3 L538.0,394.8 L539.7,394.1 L541.3,394.4 L542.7,395.2 L543.8,392.8 L544.4,383.9 L545.3,379.4 L546.3,382.8 L547.1,386.1 L548.2,390.3 L549.7,388.3 L551.1,386.7 L552.4,384.1 L553.6,380.6 L554.7,381.4 L555.8,380.3" stroke="#1e90ff" stroke-width="0.8" fill="none"/>
</g>
<text x="5.8" y="346.3" font-size="8.2" fill="#111" text-anchor="start" textLength="50.2" lengthAdjust="spacingAndGlyphs" stroke="#111" stroke-width="0.16" >RSI(14) 56.9914</text>
<rect x="1" y="1" width="566" height="1" fill="#6e6e6e" shape-rendering="crispEdges"/>
<rect x="2" y="2" width="563" height="1" fill="#cfcfcf" shape-rendering="crispEdges"/>
<rect x="1" y="1" width="1" height="434" fill="#8a8a8a" shape-rendering="crispEdges"/>
<rect x="2" y="2" width="1" height="432" fill="#b0b0b0" shape-rendering="crispEdges"/>
<rect x="565" y="1" width="1" height="434" fill="#7a7a7a" shape-rendering="crispEdges"/>
<rect x="566" y="1" width="1" height="434" fill="#b0b0b0" shape-rendering="crispEdges"/>
<rect x="1" y="236" width="566" height="1" fill="#2e2e2e" shape-rendering="crispEdges"/>
<rect x="1" y="237" width="566" height="1" fill="#d4d4d4" shape-rendering="crispEdges"/>
<rect x="1" y="238" width="566" height="1" fill="#6a6a6a" shape-rendering="crispEdges"/>
<rect x="1" y="335" width="566" height="1" fill="#333333" shape-rendering="crispEdges"/>
<rect x="1" y="336" width="566" height="1" fill="#cccccc" shape-rendering="crispEdges"/>
<rect x="1" y="337" width="566" height="1" fill="#777777" shape-rendering="crispEdges"/>
<rect x="1" y="434" width="566" height="1" fill="#3a3a3a" shape-rendering="crispEdges"/>
<line x1="566" y1="36" x2="568.5" y2="36" stroke="#333" stroke-width="0.8"/>
<text x="570.5" y="38.7" font-size="8.2" fill="#111" text-anchor="start" textLength="24.4" lengthAdjust="spacingAndGlyphs" stroke="#111" stroke-width="0.16" >1.19195</text>
<line x1="566" y1="61.2" x2="568.5" y2="61.2" stroke="#333" stroke-width="0.8"/>
<text x="570.5" y="63.900000000000006" font-size="8.2" fill="#111" text-anchor="start" textLength="24.4" lengthAdjust="spacingAndGlyphs" stroke="#111" stroke-width="0.16" >1.18245</text>
<line x1="566" y1="86.2" x2="568.5" y2="86.2" stroke="#333" stroke-width="0.8"/>
<text x="570.5" y="88.9" font-size="8.2" fill="#111" text-anchor="start" textLength="24.4" lengthAdjust="spacingAndGlyphs" stroke="#111" stroke-width="0.16" >1.17295</text>
<line x1="566" y1="110.6" x2="568.5" y2="110.6" stroke="#333" stroke-width="0.8"/>
<text x="570.5" y="113.3" font-size="8.2" fill="#111" text-anchor="start" textLength="24.4" lengthAdjust="spacingAndGlyphs" stroke="#111" stroke-width="0.16" >1.16345</text>
<line x1="566" y1="135.5" x2="568.5" y2="135.5" stroke="#333" stroke-width="0.8"/>
<text x="570.5" y="138.2" font-size="8.2" fill="#111" text-anchor="start" textLength="24.4" lengthAdjust="spacingAndGlyphs" stroke="#111" stroke-width="0.16" >1.15395</text>
<line x1="566" y1="160" x2="568.5" y2="160" stroke="#333" stroke-width="0.8"/>
<text x="570.5" y="162.7" font-size="8.2" fill="#111" text-anchor="start" textLength="24.4" lengthAdjust="spacingAndGlyphs" stroke="#111" stroke-width="0.16" >1.14445</text>
<line x1="566" y1="184.5" x2="568.5" y2="184.5" stroke="#333" stroke-width="0.8"/>
<text x="570.5" y="187.2" font-size="8.2" fill="#111" text-anchor="start" textLength="24.4" lengthAdjust="spacingAndGlyphs" stroke="#111" stroke-width="0.16" >1.13495</text>
<line x1="566" y1="209.6" x2="568.5" y2="209.6" stroke="#333" stroke-width="0.8"/>
<text x="570.5" y="212.29999999999998" font-size="8.2" fill="#111" text-anchor="start" textLength="24.4" lengthAdjust="spacingAndGlyphs" stroke="#111" stroke-width="0.16" >1.12545</text>
<line x1="566" y1="234.4" x2="568.5" y2="234.4" stroke="#333" stroke-width="0.8"/>
<text x="570.5" y="237.1" font-size="8.2" fill="#111" text-anchor="start" textLength="24.4" lengthAdjust="spacingAndGlyphs" stroke="#111" stroke-width="0.16" >1.11595</text>
<text x="570.5" y="15" font-size="8.2" fill="#111" text-anchor="start" textLength="24.4" lengthAdjust="spacingAndGlyphs" stroke="#111" stroke-width="0.16" >1.20145</text>
<rect x="567" y="10.5" width="30.7" height="8.3" fill="#2f4f4f"/>
<text x="570" y="17.6" font-size="8.2" fill="#fff" text-anchor="start" textLength="24.6" lengthAdjust="spacingAndGlyphs" stroke="#fff" stroke-width="0.16" >1.20000</text>
<rect x="567" y="186" width="30.7" height="7.7" fill="#000"/>
<text x="570" y="192.7" font-size="8.2" fill="#fff" text-anchor="start" textLength="24.6" lengthAdjust="spacingAndGlyphs" stroke="#fff" stroke-width="0.16" >1.13298</text>
<rect x="567" y="220.7" width="30.7" height="6.8" fill="#2f4f4f"/>
<text x="570" y="227" font-size="8.2" fill="#fff" text-anchor="start" textLength="24.6" lengthAdjust="spacingAndGlyphs" stroke="#fff" stroke-width="0.16" >1.11980</text>
<text x="568.8" y="246" font-size="8.2" fill="#111" text-anchor="start" textLength="27.9" lengthAdjust="spacingAndGlyphs" stroke="#111" stroke-width="0.16" >0.013102</text>
<line x1="566" y1="290.5" x2="568.5" y2="290.5" stroke="#333" stroke-width="0.8"/>
<text x="568.8" y="293.2" font-size="8.2" fill="#111" text-anchor="start" textLength="13.2" lengthAdjust="spacingAndGlyphs" stroke="#111" stroke-width="0.16" font-weight="bold">0.00</text>
<text x="569" y="333.5" font-size="8.2" fill="#111" text-anchor="start" textLength="29.5" lengthAdjust="spacingAndGlyphs" stroke="#111" stroke-width="0.16" >-0.011244</text>
<text x="569" y="344.9" font-size="8.2" fill="#111" text-anchor="start" textLength="10" lengthAdjust="spacingAndGlyphs" stroke="#111" stroke-width="0.16" >100</text>
<text x="569" y="370.0" font-size="8.2" fill="#111" text-anchor="start" textLength="6.8" lengthAdjust="spacingAndGlyphs" stroke="#111" stroke-width="0.16" >70</text>
<text x="569" y="408.2" font-size="8.2" fill="#111" text-anchor="start" textLength="6.8" lengthAdjust="spacingAndGlyphs" stroke="#111" stroke-width="0.16" >30</text>
<text x="569" y="432.2" font-size="8.2" fill="#111" text-anchor="start" textLength="3.5" lengthAdjust="spacingAndGlyphs" stroke="#111" stroke-width="0.16" >0</text>
<line x1="566" y1="366.8" x2="568.5" y2="366.8" stroke="#333" stroke-width="0.8"/>
<line x1="566" y1="405.6" x2="568.5" y2="405.6" stroke="#333" stroke-width="0.8"/>
<rect x="2" y="434" width="1" height="3" fill="#333" shape-rendering="crispEdges"/>
<text x="2" y="444.2" font-size="8.2" fill="#111" text-anchor="start" textLength="38.8" lengthAdjust="spacingAndGlyphs" stroke="#111" stroke-width="0.16" >16 Aug 2017</text>
<rect x="50" y="434" width="1" height="3" fill="#333" shape-rendering="crispEdges"/>
<text x="50.3" y="444.2" font-size="8.2" fill="#111" text-anchor="start" textLength="38.8" lengthAdjust="spacingAndGlyphs" stroke="#111" stroke-width="0.16" >29 Sep 2017</text>
<rect x="98" y="434" width="1" height="3" fill="#333" shape-rendering="crispEdges"/>
<text x="98.2" y="444.2" font-size="8.2" fill="#111" text-anchor="start" textLength="38.8" lengthAdjust="spacingAndGlyphs" stroke="#111" stroke-width="0.16" >14 Nov 2017</text>
<rect x="145" y="434" width="1" height="3" fill="#333" shape-rendering="crispEdges"/>
<text x="145.7" y="444.2" font-size="8.2" fill="#111" text-anchor="start" textLength="38.8" lengthAdjust="spacingAndGlyphs" stroke="#111" stroke-width="0.16" >29 Dec 2017</text>
<rect x="194" y="434" width="1" height="3" fill="#333" shape-rendering="crispEdges"/>
<text x="194" y="444.2" font-size="8.2" fill="#111" text-anchor="start" textLength="38.8" lengthAdjust="spacingAndGlyphs" stroke="#111" stroke-width="0.16" >14 Feb 2018</text>
<rect x="242" y="434" width="1" height="3" fill="#333" shape-rendering="crispEdges"/>
<text x="242.3" y="444.2" font-size="8.2" fill="#111" text-anchor="start" textLength="38.8" lengthAdjust="spacingAndGlyphs" stroke="#111" stroke-width="0.16" >30 Mar 2018</text>
<rect x="289" y="434" width="1" height="3" fill="#333" shape-rendering="crispEdges"/>
<text x="289.3" y="444.2" font-size="8.2" fill="#111" text-anchor="start" textLength="38.8" lengthAdjust="spacingAndGlyphs" stroke="#111" stroke-width="0.16" >15 May 2018</text>
<rect x="337" y="434" width="1" height="3" fill="#333" shape-rendering="crispEdges"/>
<text x="337.7" y="444.2" font-size="8.2" fill="#111" text-anchor="start" textLength="38.8" lengthAdjust="spacingAndGlyphs" stroke="#111" stroke-width="0.16" >28 Jun 2018</text>
<rect x="386" y="434" width="1" height="3" fill="#333" shape-rendering="crispEdges"/>
<text x="386" y="444.2" font-size="8.2" fill="#111" text-anchor="start" textLength="38.8" lengthAdjust="spacingAndGlyphs" stroke="#111" stroke-width="0.16" >13 Aug 2018</text>
<rect x="434" y="434" width="1" height="3" fill="#333" shape-rendering="crispEdges"/>
<text x="434" y="444.2" font-size="8.2" fill="#111" text-anchor="start" textLength="38.8" lengthAdjust="spacingAndGlyphs" stroke="#111" stroke-width="0.16" >26 Sep 2018</text>
<rect x="482" y="434" width="1" height="3" fill="#333" shape-rendering="crispEdges"/>
<text x="482.5" y="444.2" font-size="8.2" fill="#111" text-anchor="start" textLength="36.8" lengthAdjust="spacingAndGlyphs" stroke="#111" stroke-width="0.16" >9 Nov 2018</text>
<rect x="530" y="434" width="1" height="3" fill="#333" shape-rendering="crispEdges"/>
<text x="530" y="444.2" font-size="8.2" fill="#111" text-anchor="start" textLength="38.8" lengthAdjust="spacingAndGlyphs" stroke="#111" stroke-width="0.16" >26 Dec 2018</text>
</svg>
</body></html>
